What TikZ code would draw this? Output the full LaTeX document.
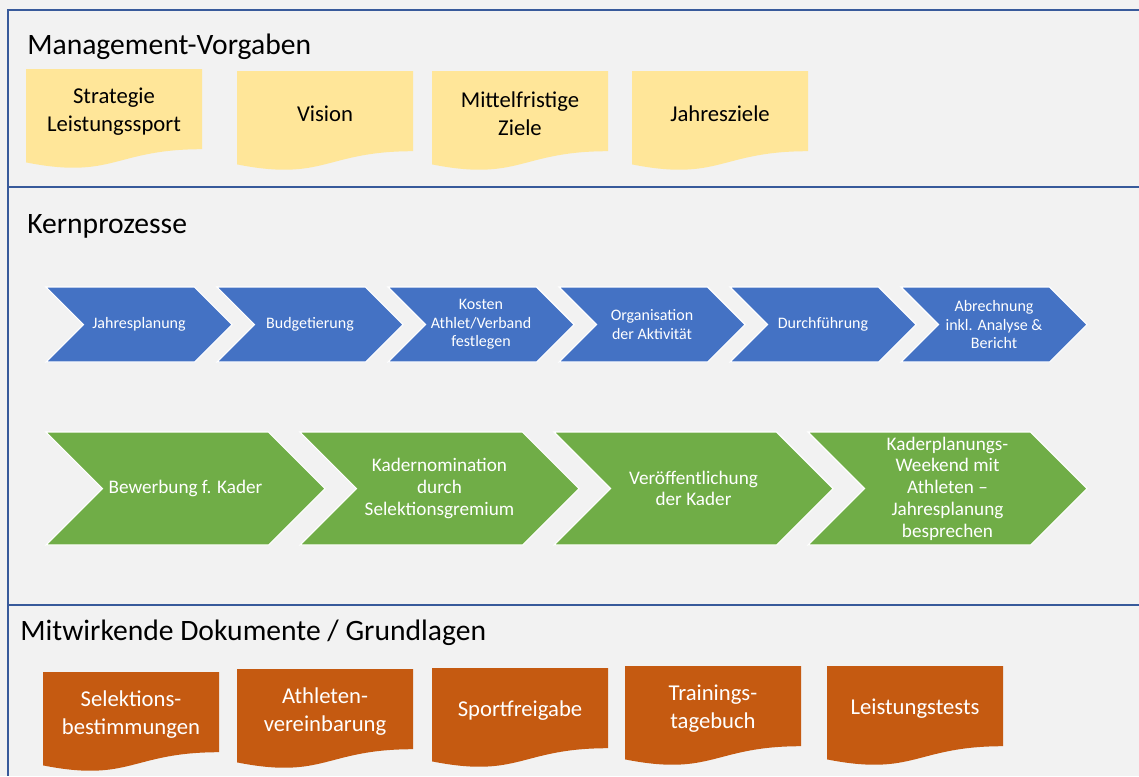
\documentclass[tikz,border=0pt]{standalone}
\usepackage{fontspec}
\setmainfont{Carlito}
\usepackage{tikz}
\usetikzlibrary{positioning}
\definecolor{pgbg}{RGB}{242,242,242}
\definecolor{pgline}{RGB}{56,90,155}
\definecolor{pgyellow}{RGB}{255,230,153}
\definecolor{pgblue}{RGB}{68,114,196}
\definecolor{pggreen}{RGB}{112,173,71}
\definecolor{pgorange}{RGB}{197,90,17}
\tikzset{
  sect/.style={draw=pgline, line width=0.9pt},
  title/.style={anchor=base west, inner sep=0pt, font=\fontsize{22.2}{26}\selectfont},
  mvdoc/.style={fill=pgyellow},
  mvdoc lbl/.style={align=center, text=black, font=\fontsize{17}{21}\selectfont},
  mwdoc/.style={fill=pgorange},
  mwdoc lbl/.style={align=center, text=white, font=\fontsize{17}{21}\selectfont},
  chb/.style={fill=pgblue, draw=white, line width=0.8pt, line join=miter},
  chb lbl/.style={align=center, text=white, font=\fontsize{12}{13.9}\selectfont},
  chg/.style={fill=pggreen, draw=white, line width=0.8pt, line join=miter},
  chg lbl/.style={align=center, text=white, font=\fontsize{14.4}{16.3}\selectfont}
}
% document shape: name, x, y, style, text (176 x 100 px)
\newcommand{\docshape}[5]{%
  \fill[#4] (#2,#3) -- ({#2+176},#3) -- ({#2+176},{#3+80.2})
    .. controls ({#2+88},{#3+80.2}) and ({#2+88},{#3+110.75}) .. (#2,{#3+93.4}) -- cycle;
  \node[#4 lbl] (#1) at ({#2+88},{#3+42.5}) {#5};
}
% chevron: name, x, y, width, height, style, text
\newcommand{\chev}[7]{%
  \path[#6] (#2,#3) -- ({#2+#4-#5/2},#3) -- ({#2+#4},{#3+#5/2})
    -- ({#2+#4-#5/2},{#3+#5}) -- (#2,{#3+#5}) -- ({#2+#5/2},{#3+#5/2}) -- cycle;
  \node[#6 lbl] (#1) at ({#2+#4/2},{#3+#5/2}) {#7};
}

\begin{document}
\begin{tikzpicture}[x=0.75pt, y=-0.75pt]
  \fill[pgbg] (0,0) rectangle (1139,776);
  \useasboundingbox (0,0) rectangle (1139,776);

  % frame and section lines
  \draw[sect] (1139,10) -- (8,10) -- (8,776);
  \draw[sect, line width=2.2pt] (8,187) -- (1139,187);
  \draw[sect, line width=1.2pt] (8,605) -- (1139,605);

  \node[title] (tmv) at (27,54) {Management-Vorgaben};
  \node[title] (tkp) at (27,233) {Kernprozesse};
  \node[title] (tmw) at (20,640) {Mitwirkende Dokumente / Grundlagen};

  % Management-Vorgaben
  \docshape{strat}{26}{69}{mvdoc}{Strategie\\Leistungssport}
  \docshape{vision}{237}{71}{mvdoc}{Vision}
  \docshape{mittel}{432}{71}{mvdoc}{Mittelfristige\\Ziele}
  \docshape{jziele}{632}{71}{mvdoc}{Jahresziele}

  % Kernprozesse, blaue Reihe
  \chev{jplan}{46}{287}{186}{75}{chb}{Jahresplanung}
  \chev{budget}{217}{287}{186}{75}{chb}{Budgetierung}
  \chev{kosten}{388}{287}{186}{75}{chb}{Kosten\\Athlet/Verband\\festlegen}
  \chev{orga}{559}{287}{186}{75}{chb}{Organisation\\der Aktivität}
  \chev{durchf}{730}{287}{186}{75}{chb}{Durchführung}
  \chev{abrech}{901}{287}{186}{75}{chb}{Abrechnung\\inkl. Analyse \&\\Bericht}

  % Kernprozesse, gruene Reihe
  \chev{bewerb}{46}{432}{279}{113}{chg}{Bewerbung f. Kader}
  \chev{nomin}{300}{432}{279}{113}{chg}{Kadernomination\\durch\\Selektionsgremium}
  \chev{veroef}{554}{432}{279}{113}{chg}{Veröffentlichung\\der Kader}
  \chev{kpweek}{808}{432}{279}{113}{chg}{Kaderplanungs-\\Weekend mit\\Athleten –\\Jahresplanung\\besprechen}

  % Mitwirkende Dokumente
  \docshape{selbest}{43}{672}{mwdoc}{Selektions-\\bestimmungen}
  \docshape{athver}{237}{669}{mwdoc}{Athleten-\\vereinbarung}
  \docshape{sportfr}{432}{668}{mwdoc}{Sportfreigabe}
  \docshape{trtb}{625}{666}{mwdoc}{Trainings-\\tagebuch}
  \docshape{ltests}{827}{666}{mwdoc}{Leistungstests}
\end{tikzpicture}
\end{document}
